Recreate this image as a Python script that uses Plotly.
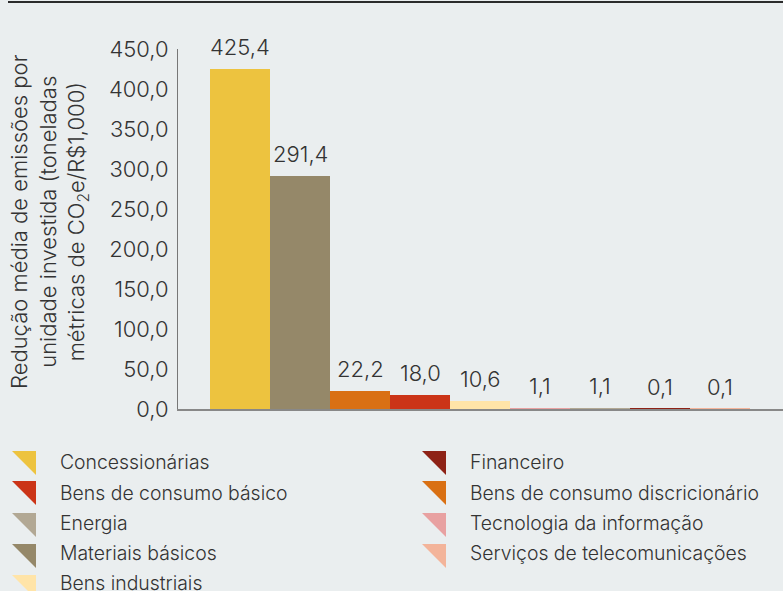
import plotly.graph_objects as go

# ---- data ----
sectors = ["Concessionárias", "Materiais básicos", "Bens de consumo discricionário",
           "Bens de consumo básico", "Bens industriais", "Tecnologia da informação",
           "Energia", "Financeiro", "Serviços de telecomunicações"]
values = [425.4, 291.4, 22.2, 18.0, 10.6, 1.1, 1.1, 0.1, 0.1]
colors = ["#EDC33F", "#958869", "#D97013", "#CB3417", "#FFE4A8", "#E8A1A1",
          "#B2A894", "#8E2216", "#F3B49A"]
tick_vals = [0, 50, 100, 150, 200, 250, 300, 350, 400, 450]
tick_text = ["0,0", "50,0", "100,0", "150,0", "200,0", "250,0", "300,0", "350,0", "400,0", "450,0"]
legend_left = ["Concessionárias", "Bens de consumo básico", "Energia", "Materiais básicos", "Bens industriais"]
legend_right = ["Financeiro", "Bens de consumo discricionário", "Tecnologia da informação",
                "Serviços de telecomunicações"]
y_title = "Redução média de emissões por<br>unidade investida (toneladas<br>métricas de CO<sub>2</sub>e/R$1,000)"

# ---- layout geometry ----
W, H = 783, 591
L, R, T, B = 178, 0, 49, 182
PW, PH = W - L - R, H - T - B
BG = "#EAEEEF"
TXT = "#333333"
FONT = "Inter, Lato, Liberation Sans, Arial, sans-serif"
WEIGHT = 300
BIG = 22
SMALL = 19.4


def xp(px):
    return (px - L) / PW


def yp(py):
    return (H - B - py) / PH


color_of = dict(zip(sectors, colors))
xs = list(range(len(sectors)))

fig = go.Figure(go.Bar(x=xs, y=values, width=1.0, marker=dict(color=colors, line=dict(width=0)),
                       showlegend=False, hoverinfo="skip"))

annotations = []
for x, v in zip(xs, values):
    annotations.append(dict(x=x, y=v, xref="x", yref="y", text=f"{v:.1f}".replace(".", ","),
                            showarrow=False, xanchor="center", yanchor="bottom", yshift=7,
                            font=dict(size=BIG, color=TXT, family=FONT, weight=WEIGHT)))

# y title
annotations.append(dict(x=xp(50), y=yp(222), xref="paper", yref="paper", text=y_title,
                        textangle=-90, showarrow=False, xanchor="center", yanchor="middle",
                        align="center", font=dict(size=BIG, color=TXT, family=FONT, weight=WEIGHT)))

shapes = [dict(type="line", xref="paper", yref="paper", x0=xp(8), x1=1, y0=yp(2), y1=yp(2),
               line=dict(color="#2b2b2b", width=2))]

tri_tops = [451, 481, 513, 544, 575]
text_mid = [462, 492.5, 523, 553, 583]
for col, (names, tx, txt_x) in enumerate([(legend_left, 12, 58), (legend_right, 422, 468)]):
    for i, name in enumerate(names):
        top = tri_tops[i]
        path = (f"M {xp(tx)},{yp(top)} L {xp(tx + 24)},{yp(top)} "
                f"L {xp(tx + 24)},{yp(top + 24)} Z")
        shapes.append(dict(type="path", xref="paper", yref="paper", path=path,
                           fillcolor=color_of[name], line=dict(width=0)))
        annotations.append(dict(x=xp(txt_x), y=yp(text_mid[i]), xref="paper", yref="paper",
                                text=name, showarrow=False, xanchor="left", yanchor="middle",
                                font=dict(size=SMALL, color=TXT, family=FONT, weight=WEIGHT)))

fig.update_layout(
    width=W, height=H,
    margin=dict(l=L, r=R, t=T, b=B, pad=0),
    paper_bgcolor=BG, plot_bgcolor=BG,
    font=dict(family=FONT, color=TXT, size=BIG, weight=WEIGHT),
    xaxis=dict(range=[(L - 240) / 60, (W - 240) / 60], showticklabels=False, ticks="",
               showgrid=False, zeroline=False, showline=True, linecolor="#888888", linewidth=2,
               fixedrange=True),
    yaxis=dict(range=[0, 450], tickvals=tick_vals, ticktext=tick_text, ticks="",
               showgrid=False, zeroline=False, showline=True, linecolor="#777777", linewidth=1,
               tickfont=dict(size=BIG, color=TXT, family=FONT, weight=WEIGHT), ticklabelstandoff=4,
               fixedrange=True),
    annotations=annotations,
    shapes=shapes,
    bargap=0,
)

fig.write_html("out.html", config={"displayModeBar": False},
               post_script="document.body.style.margin='0';document.body.style.overflow='hidden';")
